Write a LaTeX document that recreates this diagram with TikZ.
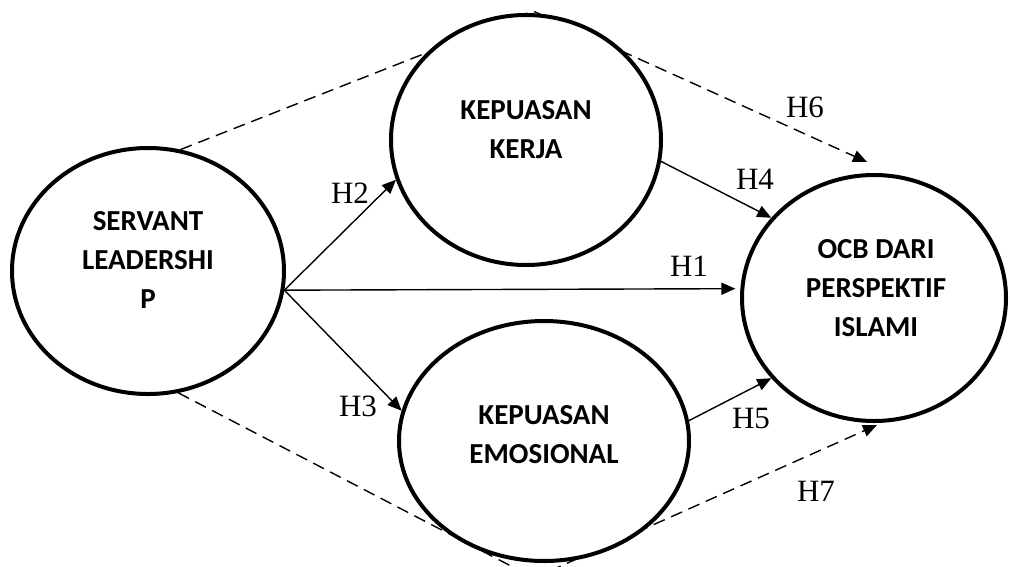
\documentclass[tikz,border=0pt]{standalone}
\usepackage{fontspec}
\newfontfamily\carlfont{Carlito}
\newfontfamily\timesfont{Liberation Serif}
\usetikzlibrary{arrows.meta,shapes.geometric,backgrounds}
\begin{document}
\begin{tikzpicture}[x=1pt,y=-1pt,
  var/.style={ellipse,draw,line width=4pt,fill=white,inner sep=0pt},
  vartext/.style={align=center,font=\carlfont\bfseries\fontsize{29}{39}\selectfont,inner sep=0pt},
  hlab/.style={font=\timesfont\fontsize{31}{31}\selectfont,inner sep=0pt},
  link/.style={line width=1.4pt,-{Triangle[length=14pt,width=12pt]}},
  dlink/.style={link,dash pattern=on 12pt off 7pt},
]
\useasboundingbox (0,0) rectangle (1010,566);
% latent variables
\node[var,minimum width=272pt,minimum height=246pt] (sl) at (148,271) {};
\node[var,minimum width=270pt,minimum height=250pt] (kk) at (526,140) {};
\node[var,minimum width=290pt,minimum height=240pt] (ke) at (544,441) {};
\node[var,minimum width=264pt,minimum height=246pt] (ocb) at (874,298) {};
% texts
\node[vartext] (slt) at (148,260) {SERVANT\\LEADERSHI\\P};
\node[vartext] (kkt) at (526,130) {KEPUASAN\\KERJA};
\node[vartext] (ket) at (544,435) {KEPUASAN\\EMOSIONAL};
\node[vartext] (ocbt) at (876,288) {OCB DARI\\PERSPEKTIF\\ISLAMI};
% indirect (dashed) paths behind the ellipses
\begin{scope}[on background layer]
\coordinate (topapex) at (533,11);
\coordinate (botapex) at (534,578);
\coordinate (h6end) at (867,162);
\coordinate (h7end) at (877,425);
\draw[dlink] (sl.75.5) -- (topapex) -- (h6end);
\draw[dlink] (sl.-76.4) -- (botapex) -- (h7end);
\end{scope}
% direct paths
\draw[link] (sl.-8) -- (kk.197.6);
\draw[link] (sl.-8) -- (ke.168.8);
\draw[link,shorten >=5pt] (sl.-8) -- (ocb.176.8);
\draw[link] (kk.-9.6) -- (ocb.142.4);
\draw[link] (ke.8.7) -- (ocb.218.4);
% labels
\node[hlab] (h1) at (689,266) {H1};
\node[hlab] (h2) at (350,193) {H2};
\node[hlab] (h3) at (358,406) {H3};
\node[hlab] (h4) at (755,179) {H4};
\node[hlab] (h5) at (751,418) {H5};
\node[hlab] (h6) at (805,107) {H6};
\node[hlab] (h7) at (816,491) {H7};
\end{tikzpicture}
\end{document}
